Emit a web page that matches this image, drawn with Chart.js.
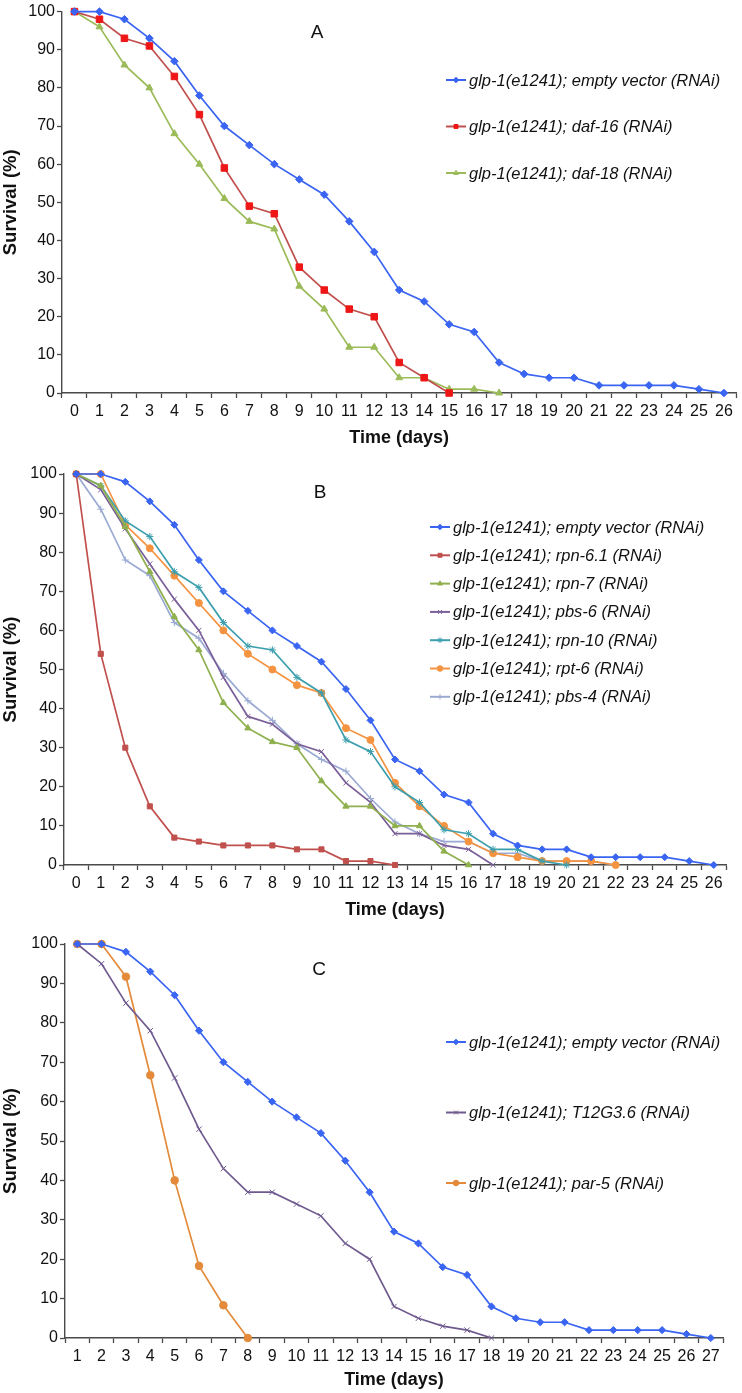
<!DOCTYPE html>
<html lang="en">
<head>
<meta charset="UTF-8">
<title>glp-1(e1241) survival curves</title>
<script src="https://cdn.jsdelivr.net/npm/chart.js@4.4.0/dist/chart.umd.min.js"></script>
<style>
  body { margin: 0; background: #fff; }
  canvas { display: block; }
</style>
</head>
<body>
<canvas id="chartA" width="742" height="452"></canvas>
<canvas id="chartB" width="742" height="470"></canvas>
<canvas id="chartC" width="742" height="471"></canvas>
<script>
// tick labels (days)
const daysAB = ['0','1','2','3','4','5','6','7','8','9','10','11','12','13','14','15','16','17','18','19','20','21','22','23','24','25','26'];
const daysC = ['1','2','3','4','5','6','7','8','9','10','11','12','13','14','15','16','17','18','19','20','21','22','23','24','25','26','27'];

// survival (%) per day
const emptyVector = [100, 100, 98, 93, 87, 78, 70, 65, 60, 56, 52, 45, 37, 27, 24, 18, 16, 8, 5, 4, 4, 2, 2, 2, 2, 1, 0];
const daf16 = [100, 98, 93, 91, 83, 73, 59, 49, 47, 33, 27, 22, 20, 8, 4, 0];
const daf18 = [100, 96, 86, 80, 68, 60, 51, 45, 43, 28, 22, 12, 12, 4, 4, 1, 1, 0];

const rpn61 = [100, 54, 30, 15, 7, 6, 5, 5, 5, 4, 4, 1, 1, 0];
const rpn7 = [100, 97, 86.5, 75, 63.5, 55, 41.5, 35, 31.5, 30, 21.5, 15, 15, 10, 10, 3.5, 0];
const pbs6 = [100, 96, 86, 77, 68, 60, 48, 38, 36, 31, 29, 21, 16, 8, 8, 5, 4, 0];
const rpn10 = [100, 97, 88, 84, 75, 71, 62, 56, 55, 48, 44, 32, 29, 20, 16, 9, 8, 4, 4, 1, 0];
const rpt6 = [100, 100, 87, 81, 74, 67, 60, 54, 50, 46, 44, 35, 32, 21, 15, 10, 6, 3, 2, 1, 1, 1, 0];
const pbs4 = [100, 91, 78, 74, 62, 58, 49, 42, 37, 31, 27, 24, 17, 11, 8, 6, 6, 3, 3, 1, 1, 1, 0];

const emptyVectorC = [100, 100, 98, 93, 87, 78, 70, 65, 60, 56, 52, 45, 37, 27, 24, 18, 16, 8, 5, 4, 4, 2, 2, 2, 2, 1, 0];
const t12g36 = [100, 95, 85, 78, 66, 53, 43, 37, 37, 34, 31, 24, 20, 8, 5, 3, 2, 0];
const par5 = [100, 100, 91.7, 66.7, 40, 18.3, 8.3, 0];

const FONT = '"Liberation Sans", Arial, Helvetica, sans-serif';
const AXIS = '#4a4a4a';

function series(label, data, color, style, radius, markColor) {
  const mc = markColor || color;
  return {
    label: label,
    data: data,
    borderColor: color,
    backgroundColor: mc,
    pointBackgroundColor: mc,
    pointBorderColor: mc,
    pointBorderWidth: 1,
    pointStyle: style,
    pointRadius: radius,
    borderWidth: 1.7,
    tension: 0,
    clip: false
  };
}

// legend + panel letter drawn inside the plot
const insideLegend = {
  id: 'insideLegend',
  afterDraw(chart, args, opts) {
    const ctx = chart.ctx;
    ctx.save();
    ctx.font = '19px ' + FONT;
    ctx.fillStyle = '#111';
    ctx.textAlign = 'center';
    ctx.textBaseline = 'middle';
    ctx.fillText(opts.letter, opts.letterX, opts.letterY);

    ctx.font = 'italic 16.5px ' + FONT;
    ctx.textAlign = 'left';
    chart.data.datasets.forEach((ds, i) => {
      const x = opts.x;
      const y = opts.y + i * opts.gap;
      ctx.strokeStyle = ds.borderColor;
      ctx.lineWidth = 2;
      ctx.beginPath();
      ctx.moveTo(x, y);
      ctx.lineTo(x + 20, y);
      ctx.stroke();
      ctx.fillStyle = ds.pointBackgroundColor;
      ctx.strokeStyle = ds.pointBorderColor;
      ctx.lineWidth = 1;
      Chart.helpers.drawPoint(ctx, { pointStyle: ds.pointStyle, radius: 2.8, borderWidth: 1, rotation: 0 }, x + 10, y);
      ctx.fillStyle = '#111';
      ctx.fillText(ds.label, x + 23, y + 1);
    });
    ctx.restore();
  }
};

function makeScales(labels, yWidth, xHeight, titlePad) {
  const tickFont = { family: FONT, size: 16 };
  return {
    x: {
      type: 'category',
      labels: labels,
      offset: true,
      grid: { offset: true, drawOnChartArea: false, drawTicks: true, tickLength: 5, tickColor: AXIS, tickWidth: 1.3 },
      border: { display: true, color: AXIS, width: 1.4 },
      ticks: { font: tickFont, color: '#111', padding: 4, autoSkip: false, maxRotation: 0 },
      title: { display: true, text: 'Time (days)', color: '#111', font: { family: FONT, size: 18, weight: 'bold' }, padding: { top: 0, bottom: titlePad } },
      afterFit(s) { s.height = xHeight; }
    },
    y: {
      min: 0,
      max: 100,
      grid: { drawOnChartArea: false, drawTicks: true, tickLength: 5, tickColor: AXIS, tickWidth: 1.3 },
      border: { display: true, color: AXIS, width: 1.4 },
      ticks: { stepSize: 10, font: tickFont, color: '#111', padding: 2 },
      title: { display: true, text: 'Survival (%)', color: '#111', font: { family: FONT, size: 18.5, weight: 'bold' }, padding: { top: 0, bottom: 0 } },
      afterFit(s) { s.width = yWidth; }
    }
  };
}

function makeChart(id, datasets, labels, layout, legend) {
  return new Chart(document.getElementById(id), {
    type: 'line',
    data: { labels: labels, datasets: datasets },
    options: {
      responsive: false,
      animation: false,
      events: [],
      layout: { padding: { left: 0, right: layout.right, top: layout.top, bottom: 0 } },
      plugins: {
        legend: { display: false },
        tooltip: { enabled: false },
        insideLegend: legend
      },
      scales: makeScales(labels, layout.yWidth, layout.xHeight, layout.titlePad)
    },
    plugins: [insideLegend]
  });
}

const BLUE = '#3a64f2';

makeChart('chartA', [
  series('glp-1(e1241); empty vector (RNAi)', emptyVector, BLUE, 'rectRot', 3.8),
  series('glp-1(e1241); daf-16 (RNAi)', daf16, '#c0504d', 'rect', 4.6, '#ee1616'),
  series('glp-1(e1241); daf-18 (RNAi)', daf18, '#9bbb59', 'triangle', 4)
], daysAB,
  { right: 5, top: 10, yWidth: 62, xHeight: 59, titlePad: 3 },
  { letter: 'A', letterX: 317, letterY: 33, x: 446, y: 80, gap: 46.5 });

makeChart('chartB', [
  series('glp-1(e1241); empty vector (RNAi)', emptyVector, BLUE, 'rectRot', 3.5),
  series('glp-1(e1241); rpn-6.1 (RNAi)', rpn61, '#c0504d', 'rect', 3.6),
  series('glp-1(e1241); rpn-7 (RNAi)', rpn7, '#8fb04e', 'triangle', 3.6),
  series('glp-1(e1241); pbs-6 (RNAi)', pbs6, '#7a5f98', 'crossRot', 3.6),
  series('glp-1(e1241); rpn-10 (RNAi)', rpn10, '#3d9fae', 'star', 3.6),
  series('glp-1(e1241); rpt-6 (RNAi)', rpt6, '#f59340', 'circle', 3.5),
  series('glp-1(e1241); pbs-4 (RNAi)', pbs4, '#9aaad2', 'cross', 3.6)
], daysAB,
  { right: 16, top: 22, yWidth: 64, xHeight: 57, titlePad: 1 },
  { letter: 'B', letterX: 320, letterY: 41, x: 430, y: 75, gap: 28.3 });

makeChart('chartC', [
  series('glp-1(e1241); empty vector (RNAi)', emptyVectorC, BLUE, 'rectRot', 3.6),
  series('glp-1(e1241); T12G3.6 (RNAi)', t12g36, '#6f5a8f', 'crossRot', 3.8),
  series('glp-1(e1241); par-5 (RNAi)', par5, '#e38b3a', 'circle', 3.8)
], daysC,
  { right: 19, top: 22, yWidth: 65, xHeight: 55, titlePad: 2 },
  { letter: 'C', letterX: 319, letterY: 48, x: 446, y: 120, gap: 70.5 });
</script>
</body>
</html>
